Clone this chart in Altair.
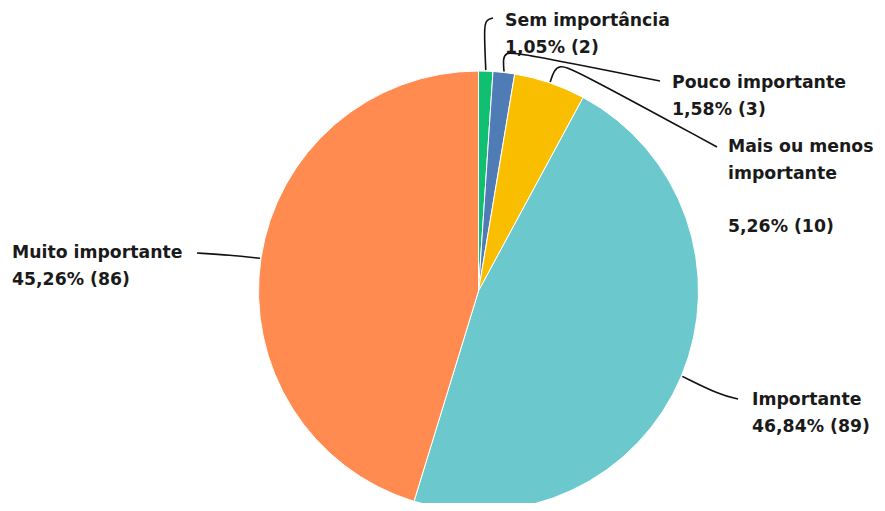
import math
import altair as alt
import pandas as pd

# ---- data ----
categories = ["Sem importância", "Pouco importante", "Mais ou menos importante",
              "Importante", "Muito importante"]
# label lines per category (None = blank line)
label_lines = [
    ["Sem importância"],
    ["Pouco importante"],
    ["Mais ou menos", "importante", None],
    ["Importante"],
    ["Muito importante"],
]
percents = [1.05, 1.58, 5.26, 46.84, 45.26]
counts = [2, 3, 10, 89, 86]
colors = ["#10BF70", "#507CB6", "#F9BE00", "#6BC8CD", "#FF8B50"]

# ---- layout (chart pixel space) ----
W, H = 869, 495
CX, CY, R = 470.5, 283, 220
LH = 26.5
# label anchor (x, baseline of first line)
label_pos = [(497, 18), (664, 80), (720, 144), (744, 397), (4, 250)]
# leader-line waypoints after the arc start point
leader_pts = [
    [(476, 20), (478, 12), (485, 10)],
    [(495, 50), (498, 45), (507, 44), (652, 73)],
    [(546, 62), (552, 58), (562, 59), (709, 139)],
    [(712, 387), (730, 391)],
    [(222, 247), (189, 245)],
]

pie_df = pd.DataFrame({
    "cat": categories, "pct": percents, "idx": list(range(len(categories)))
})

# leader lines start on the arc at each slice's mid angle
total = sum(percents)
rows = []
cum = 0.0
for i, p in enumerate(percents):
    mid = (cum + p / 2) / total * 2 * math.pi
    cum += p
    sx = CX + (R + 1) * math.sin(mid)
    sy = CY - (R + 1) * math.cos(mid)
    pts = [(sx, sy)] + leader_pts[i]
    for j, (x, y) in enumerate(pts):
        rows.append({"cat": categories[i], "seq": j, "x": x, "y": y})
line_df = pd.DataFrame(rows)

texts = []
for i in range(len(categories)):
    pct = f"{percents[i]:.2f}".replace(".", ",")
    lines_i = label_lines[i] + [f"{pct}% ({counts[i]})"]
    for k, t in enumerate(lines_i):
        if t is None:
            continue
        texts.append({"txt": t, "x": label_pos[i][0], "y": label_pos[i][1] + k * LH})
text_df = pd.DataFrame(texts)

xs = alt.Scale(domain=[0, W], range=[0, W])
ys = alt.Scale(domain=[0, H], range=[0, H])

pie = alt.Chart(pie_df).mark_arc(radius=R, stroke="white", strokeWidth=1).encode(
    theta=alt.Theta("pct:Q", stack=True),
    color=alt.Color("cat:N", scale=alt.Scale(domain=categories, range=colors), legend=None),
    order=alt.Order("idx:Q"),
    x=alt.value(CX),
    y=alt.value(CY),
)

lines = alt.Chart(line_df).mark_line(interpolate="basis", color="#111111", strokeWidth=1.6).encode(
    x=alt.X("x:Q", scale=xs, axis=None),
    y=alt.Y("y:Q", scale=ys, axis=None),
    detail="cat:N",
    order="seq:Q",
)

labels = alt.Chart(text_df).mark_text(
    align="left", baseline="alphabetic",
    font="DejaVu Sans", fontWeight="bold", fontSize=17.3, color="#1a1a1a",
).encode(
    x=alt.X("x:Q", scale=xs, axis=None),
    y=alt.Y("y:Q", scale=ys, axis=None),
    text="txt:N",
)

chart = alt.layer(pie, lines, labels).properties(
    width=W, height=H, padding=0, autosize=alt.AutoSizeParams(type="none"),
).configure_view(stroke=None)

chart.save("out.html", embed_options={"renderer": "svg", "actions": False})
